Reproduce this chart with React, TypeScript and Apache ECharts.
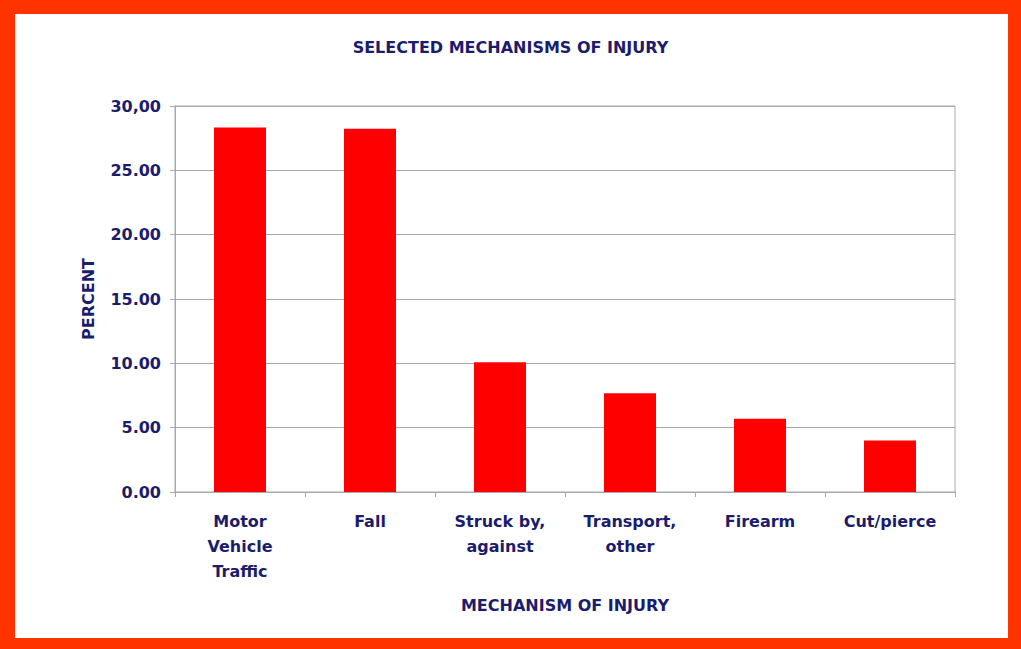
import React, { useEffect, useRef } from "react";
import * as echarts from "echarts";

const categories = ["Motor\nVehicle\nTraffic", "Fall", "Struck by,\nagainst", "Transport,\nother", "Firearm", "Cut/pierce"];
const percents = [28.33, 28.23, 10.08, 7.67, 5.7, 4.0];
const yTickLabels = ["0.00", "5.00", "10.00", "15.00", "20.00", "25.00", "30,00"];

const NAVY = "#1c1c6c";
const FONT = "'DejaVu Sans', Verdana, sans-serif";
const BORDER = "#ff3300";

export default function App() {
  const ref = useRef<HTMLDivElement>(null);
  useEffect(() => {
    if (!ref.current) return;
    const chart = echarts.init(ref.current, null, { renderer: "svg" });
    chart.setOption({
      animation: false,
      backgroundColor: "#ffffff",
      title: {
        text: "SELECTED MECHANISMS OF INJURY",
        left: "center",
        top: 34,
        textStyle: { color: NAVY, fontFamily: FONT, fontWeight: "bold", fontSize: 16 },
      },
      grid: {
        left: 175,
        right: 66,
        top: 106,
        bottom: 157,
        show: true,
        borderColor: "#a8a8a8",
        borderWidth: 1,
        backgroundColor: "transparent",
      },
      xAxis: {
        type: "category",
        data: categories,
        name: "MECHANISM OF INJURY",
        nameLocation: "middle",
        nameGap: 105,
        nameTextStyle: { color: NAVY, fontFamily: FONT, fontWeight: "bold", fontSize: 16 },
        axisLine: { lineStyle: { color: "#a8a8a8" } },
        axisTick: { show: true, length: 5, lineStyle: { color: "#a8a8a8" } },
        axisLabel: {
          color: NAVY,
          fontFamily: FONT,
          fontWeight: "bold",
          fontSize: 16,
          lineHeight: 25,
          margin: 17,
          interval: 0,
        },
      },
      yAxis: {
        type: "value",
        min: 0,
        max: 30,
        interval: 5,
        name: "PERCENT",
        nameLocation: "middle",
        nameGap: 79,
        nameRotate: 90,
        nameTextStyle: { color: NAVY, fontFamily: FONT, fontWeight: "bold", fontSize: 16 },
        axisLine: { show: true, lineStyle: { color: "#a8a8a8" } },
        axisTick: { show: true, length: 5, lineStyle: { color: "#a8a8a8" } },
        splitLine: { show: true, lineStyle: { color: "#a8a8a8" } },
        axisLabel: {
          color: NAVY,
          fontFamily: FONT,
          fontWeight: "bold",
          fontSize: 16,
          margin: 14,
          formatter: (v: number) => yTickLabels[Math.round(v / 5)] ?? String(v),
        },
      },
      series: [
        {
          type: "bar",
          data: percents,
          barWidth: "40%",
          itemStyle: { color: "#ff0000" },
        },
      ],
      graphic: [
        { type: "rect", silent: true, shape: { x: 0, y: 0, width: 1021, height: 14 }, style: { fill: BORDER } },
        { type: "rect", silent: true, shape: { x: 0, y: 638, width: 1021, height: 11 }, style: { fill: BORDER } },
        { type: "rect", silent: true, shape: { x: 0, y: 0, width: 15, height: 649 }, style: { fill: BORDER } },
        { type: "rect", silent: true, shape: { x: 1008, y: 0, width: 13, height: 649 }, style: { fill: BORDER } },
      ],
    });
    return () => chart.dispose();
  }, []);
  return (
    <div
      ref={ref}
      style={{ position: "absolute", left: 0, top: 0, width: 1021, height: 649 }}
    />
  );
}
